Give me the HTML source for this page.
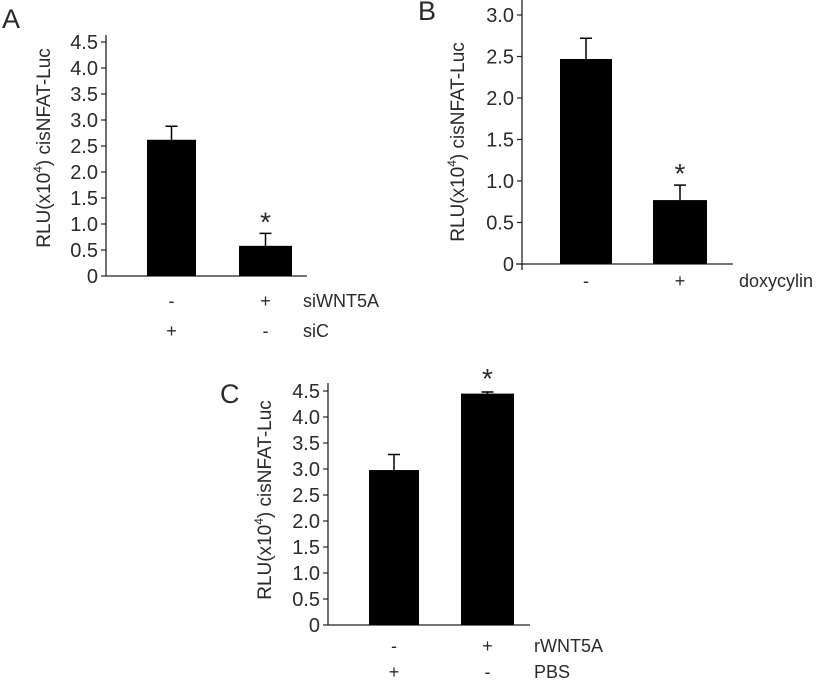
<!DOCTYPE html>
<html><head><meta charset="utf-8"><style>
body{margin:0;background:#fff;}
svg text{font-family:"Liberation Sans",sans-serif;fill:#2a2a2a;}
</style></head><body>
<svg id="fig" width="822" height="682"></svg>
<script>
const panelLetters = ["A","B","C"];
const aValues = [2.62, 0.58];
const aErrors = [0.26, 0.24];
const aTicks = ["0","0.5","1.0","1.5","2.0","2.5","3.0","3.5","4.0","4.5"];
const bValues = [2.47, 0.77];
const bErrors = [0.25, 0.18];
const bTicks = ["0","0.5","1.0","1.5","2.0","2.5","3.0"];
const cValues = [2.98, 4.45];
const cErrors = [0.30, 0.03];
const cTicks = ["0","0.5","1.0","1.5","2.0","2.5","3.0","3.5","4.0","4.5"];
const aRows = [["-","+","siWNT5A"],["+","-","siC"]];
const bRows = [["-","+","doxycylin"]];
const cRows = [["-","+","rWNT5A"],["+","-","PBS"]];
const aStars = [false,true];
const bStars = [false,true];
const cStars = [false,true];

const NS="http://www.w3.org/2000/svg";
const svg=document.getElementById('fig');
function mk(tag,attrs,parent){const e=document.createElementNS(NS,tag);for(const k in attrs)e.setAttribute(k,attrs[k]);(parent||svg).appendChild(e);return e;}

function panel(cfg){
  const g=mk('g',{});
  
  
  const maxV=(cfg.ticks.length-1)*0.5;
  const y=v=>cfg.y0-(v/maxV)*(cfg.y0-cfg.yTop);
  const L=mk('text',{x:cfg.lx,y:cfg.ly,'font-size':27},g);L.textContent=cfg.letter;
  
  
  const ax=mk('line',{x1:cfg.ax,x2:cfg.ax,y1:cfg.axTop,y2:cfg.y0+cfg.below,stroke:'#222','stroke-width':1.3},g);
  
  
  const xl=mk('line',{x1:cfg.ax-(cfg.below?6:0),x2:cfg.axRight,y1:cfg.y0,y2:cfg.y0,stroke:'#222','stroke-width':1.3},g);
  
  
  cfg.ticks.forEach((t,i)=>{
    const v=i*0.5,yy=y(v);
    const tk=mk('line',{x1:cfg.ax-5,x2:cfg.ax,y1:yy,y2:yy,stroke:'#222','stroke-width':1.2},g);
    
    
    const tl=mk('text',{x:cfg.ax-8,y:yy+7,'font-size':20,'text-anchor':'end'},g);tl.textContent=t;
    
    
  });
  const tt=mk('text',{transform:`translate(${cfg.tx},${cfg.ty}) rotate(-90)`,'font-size':19,'text-anchor':'middle'},g);
  
  
  tt.innerHTML='RLU(x10<tspan font-size="12" dy="-8">4</tspan><tspan dy="8">) cisNFAT-Luc</tspan>';
  cfg.values.forEach((v,i)=>{
    const [x1,x2]=cfg.bars[i];const cx=(x1+x2)/2;
    const r=mk('rect',{x:x1,y:y(v),width:x2-x1,height:cfg.y0-y(v),fill:'#000'},g);
    
    
    const et=y(v+cfg.errors[i]);
    const e=mk('path',{d:`M${cx},${y(v)}V${et}M${cx-6},${et}H${cx+6}`,stroke:'#000','stroke-width':1.5,fill:'none'},g);
    
    
    if(cfg.stars[i]){
      const s=mk('text',{x:cx,y:et-cfg.starGap,'font-size':28,'text-anchor':'middle'},g);s.textContent='*';
      
      
    }
  });
  cfg.rows.forEach((row,ri)=>{
    const yy=cfg.rowY[ri];
    row.forEach((t,ci)=>{
      const isLab=ci===2;
      const x=isLab?cfg.labX:(cfg.bars[ci][0]+cfg.bars[ci][1])/2;
      const tx=mk('text',{x:x,y:yy,'font-size':18,'text-anchor':isLab?'start':'middle'},g);tx.textContent=t;
      
      
    });
  });
}

panel({letter:panelLetters[0],lx:2,ly:28,ax:106,axTop:35,y0:276,yTop:42,below:0,axRight:307,ticks:aTicks,
  tx:50,ty:148,values:aValues,errors:aErrors,bars:[[147,196],[239,292]],stars:aStars,starGap:2,
  rows:aRows,rowY:[307,337],labX:303});
panel({letter:panelLetters[1],lx:418,ly:20,ax:522,axTop:0,y0:264,yTop:15,below:6,axRight:733,ticks:bTicks,
  tx:464,ty:142,values:bValues,errors:bErrors,bars:[[560,612],[653,707]],stars:bStars,starGap:2,
  rows:bRows,rowY:[287],labX:739});
panel({letter:panelLetters[2],lx:220,ly:403,ax:328,axTop:383,y0:625,yTop:391,below:0,axRight:530,ticks:cTicks,
  tx:271,ty:500,values:cValues,errors:cErrors,bars:[[369,419],[461,514]],stars:cStars,starGap:4,
  rows:cRows,rowY:[652,678],labX:534});
</script>
</body></html>
